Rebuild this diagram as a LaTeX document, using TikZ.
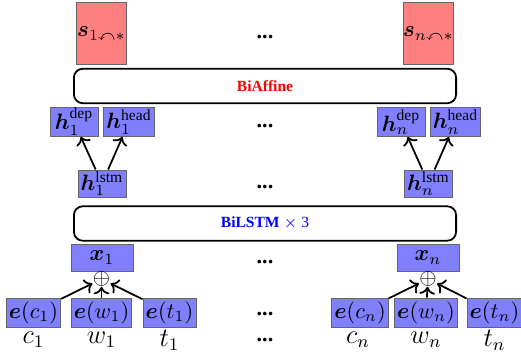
\documentclass[tikz,border=0pt]{standalone}
\usepackage{amsmath,amssymb}
\usepackage{fontspec}
\setmainfont{Liberation Serif}
\usepackage{bm}
\usetikzlibrary{arrows.meta}

\begin{document}
\begin{tikzpicture}[x=0.45pt, y=-0.45pt,
        score/.style={rectangle, draw=black!60, fill=red!50, minimum width=22.5pt, minimum height=27.5pt, inner sep=0pt},
        vec/.style={rectangle, draw=black!60, fill=blue!50, inner xsep=1.2pt, inner ysep=0pt, minimum height=13pt},
        layer/.style={rectangle, draw=black, thick, rounded corners=4pt, minimum width=172pt, minimum height=15.5pt, font=\scriptsize},
        word/.style={font=\large},
        etc/.style={anchor=base, font=\bfseries},
        arrow/.style={-{To}, thick}]

        \useasboundingbox (0,0) rectangle (521,356);

        % scores
        \node (s1) [score] at (101.5, 33.5) {$\bm{s}_{1 \curvearrowleft *}$};
        \node (sn) [score] at (428.5, 33.5) {$\bm{s}_{n \curvearrowleft *}$};
        \node (biaff) [layer, text=red] at (265, 86) {\textbf{BiAffine}};

        % dep / head
        \node (h1dep) [vec, minimum width=21.6pt] at (74, 122) {$\bm{h}_1^{\text{dep}}$};
        \node (h1head) [vec, minimum width=21.6pt] at (129, 122) {$\bm{h}_1^{\text{head}}$};
        \node (hndep) [vec, minimum width=21.6pt] at (401, 122) {$\bm{h}_n^{\text{dep}}$};
        \node (hnhead) [vec, minimum width=21.6pt] at (455.5, 122) {$\bm{h}_n^{\text{head}}$};

        \node (h1lstm) [vec, minimum width=21.6pt, minimum height=12.2pt] at (102, 183.5) {$\bm{h}_1^{\text{lstm}}$};
        \node (hnlstm) [vec, minimum width=21.6pt, minimum height=12.2pt] at (428.5, 183.5) {$\bm{h}_n^{\text{lstm}}$};

        \node (bilstm) [layer, text=blue] at (265, 223.5) {\textbf{BiLSTM} $\times$ 3};

        % inputs
        \node (x1) [vec, minimum width=27.9pt, minimum height=12.2pt] at (102, 257.5) {$\bm{x}_1$};
        \node (xn) [vec, minimum width=27.9pt, minimum height=12.2pt] at (428, 257.5) {$\bm{x}_n$};
        \node (op1) [inner sep=0pt] at (101.5, 279) {$\oplus$};
        \node (opn) [inner sep=0pt] at (428, 279) {$\oplus$};

        \node (ec1) [vec] at (33.5, 312.5) {$\bm{e}(c_1)$};
        \node (ew1) [vec] at (101.5, 312.5) {$\bm{e}(w_1)$};
        \node (et1) [vec] at (169.5, 312.5) {$\bm{e}(t_1)$};
        \node (ecn) [vec] at (360, 312.5) {$\bm{e}(c_n)$};
        \node (ewn) [vec] at (426, 312.5) {$\bm{e}(w_n)$};
        \node (etn) [vec] at (494.5, 312.5) {$\bm{e}(t_n)$};

        \node (c1) [word] at (33.5, 340) {$c_1$};
        \node (w1) [word] at (101.5, 340) {$w_1$};
        \node (t1) [word] at (169.5, 340) {$t_1$};
        \node (cn) [word] at (358, 340) {$c_n$};
        \node (wn) [word] at (426, 340) {$w_n$};
        \node (tn) [word] at (494.5, 340) {$t_n$};

        % dots between 1 and n
        \node (d1) [etc] at (265, 38) {...};
        \node (d2) [etc] at (265, 127) {...};
        \node (d3) [etc] at (265, 188) {...};
        \node (d4) [etc] at (265, 263) {...};
        \node (d5) [etc] at (265, 315) {...};
        \node (d6) [etc] at (265, 341) {...};

        \draw [arrow] (h1lstm) -- (h1dep);
        \draw [arrow] (h1lstm) -- (h1head);
        \draw [arrow] (hnlstm) -- (hndep);
        \draw [arrow] (hnlstm) -- (hnhead);

        \draw [arrow] (ec1) -- (op1);
        \draw [arrow] (ew1) -- (op1);
        \draw [arrow] (et1) -- (op1);
        \draw [arrow] (ecn) -- (opn);
        \draw [arrow] (ewn) -- (opn);
        \draw [arrow] (etn) -- (opn);
    \end{tikzpicture}
\end{document}
